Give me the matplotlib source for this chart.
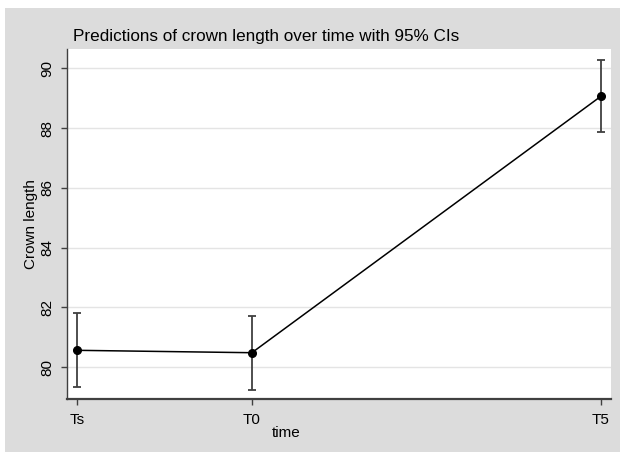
import matplotlib
matplotlib.use("Agg")
import matplotlib.pyplot as plt
from matplotlib.patches import Rectangle

# data
time_labels = ["Ts", "T0", "T5"]
time_pos = [0, 1, 3]
pred = [80.56, 80.48, 89.07]
ci_low = [79.33, 79.24, 87.86]
ci_high = [81.80, 81.71, 90.29]
y_ticks = [80, 82, 84, 86, 88, 90]

plt.rcParams["font.family"] = ["Liberation Sans", "DejaVu Sans"]

W, H = 620, 457
fig = plt.figure(figsize=(W / 100, H / 100), dpi=100)
fig.patch.set_facecolor("white")
# gray Stata-style background (white margin on left/top/bottom)
fig.add_artist(Rectangle((5 / W, 5 / H), 1 - 5 / W, 1 - 13 / H,
                         transform=fig.transFigure, facecolor="#dcdcdc",
                         edgecolor="none", zorder=0))

ax = fig.add_axes([67 / W, 1 - 399 / H, (611 - 67) / W, (399 - 49) / H])
ax.set_facecolor("white")

err_lo = [p - l for p, l in zip(pred, ci_low)]
err_hi = [h - p for p, h in zip(pred, ci_high)]
ax.errorbar(time_pos, pred, yerr=[err_lo, err_hi], fmt="none",
            ecolor="#404040", elinewidth=1.3, capsize=3, capthick=1.3, zorder=3)
ax.plot(time_pos, pred, color="black", lw=1.1, marker="o", ms=5.5,
        mfc="black", mec="black", zorder=4)

ax.set_xlim(-0.059, 3.057)
ax.set_ylim(78.93, 90.65)
ax.set_xticks(time_pos)
ax.set_xticklabels(time_labels, fontsize=11)
ax.set_yticks(y_ticks)
ax.set_yticklabels([str(v) for v in y_ticks], fontsize=11, rotation=90, va="center")
ax.yaxis.grid(True, color="#e4e4e4", lw=1)
ax.set_axisbelow(True)
ax.tick_params(axis="both", colors="#404040", labelcolor="black", length=4, width=1)
ax.tick_params(axis="x", pad=6)
ax.tick_params(axis="y", pad=5)

for s in ["top", "right"]:
    ax.spines[s].set_visible(False)
ax.spines["left"].set_color("#404040")
ax.spines["bottom"].set_color("#404040")
ax.spines["bottom"].set_linewidth(1.6)
ax.spines["left"].set_linewidth(1.0)

fig.text(266.5 / W, 1 - 36 / H, "Predictions of crown length over time with 95% CIs",
         fontsize=12.3, ha="center", va="center")
fig.text(286 / W, 1 - 433 / H, "time", fontsize=11, ha="center", va="center")
fig.text(31 / W, 1 - 224 / H, "Crown length", fontsize=11, ha="center",
         va="center", rotation=90)

fig.savefig("out.png", dpi=100)
